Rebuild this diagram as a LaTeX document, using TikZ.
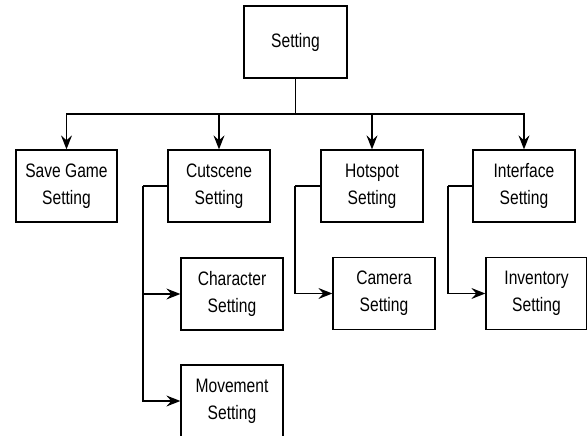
\documentclass[tikz,border=0pt]{standalone}
\usepackage{fontspec}
\newfontfamily\boxfont[FakeStretch=0.8]{Liberation Sans}
\usetikzlibrary{arrows.meta}
\begin{document}
\begin{tikzpicture}[x=1pt,y=-1pt,
  box/.style={draw, line width=1.3pt, minimum width=102pt, minimum height=72pt,
    inner sep=0pt, align=center, font=\boxfont\fontsize{19.5}{27}\selectfont},
  link/.style={line width=1.3pt},
  arr/.style={link, -{Stealth[length=14pt,width=11pt,inset=5pt]}}]
\useasboundingbox (0,0) rectangle (587,436);
\clip (0,0) rectangle (587,436);

% top level
\node[box, minimum width=103pt] (set) at (295.5,42) {Setting};

% second level
\node[box, minimum width=101pt] (save) at (66.5,186) {Save Game\\Setting};
\node[box] (cut) at (219,186) {Cutscene\\Setting};
\node[box] (hot) at (372,186) {Hotspot\\Setting};
\node[box] (intf) at (524,186) {Interface\\Setting};

% third level
\node[box] (char) at (232,294) {Character\\Setting};
\node[box] (move) at (232,401) {Movement\\Setting};
\node[box] (cam) at (384,293.5) {Camera\\Setting};
\node[box, minimum width=101pt] (inv) at (536.5,293.5) {Inventory\\Setting};

% bus from the top box
\coordinate (bus) at (295.5,114);
\draw[link] (set.south) -- (bus);
\draw[arr] (bus) -| (save.north);
\draw[arr] (bus) -| (cut.north);
\draw[arr] (bus) -| (hot.north);
\draw[arr] (bus) -| (intf.north);

% side branches
\coordinate (cutrail) at (143,186);
\draw[link] (cut.west) -- (cutrail);
\draw[arr] (cutrail) |- (char.west);
\draw[arr] (cutrail) |- (move.west);

\coordinate (hotrail) at (295,186);
\draw[link] (hot.west) -- (hotrail);
\draw[arr] (hotrail) |- (cam.west);

\coordinate (intrail) at (448,186);
\draw[link] (intf.west) -- (intrail);
\draw[arr] (intrail) |- (inv.west);
\end{tikzpicture}
\end{document}
